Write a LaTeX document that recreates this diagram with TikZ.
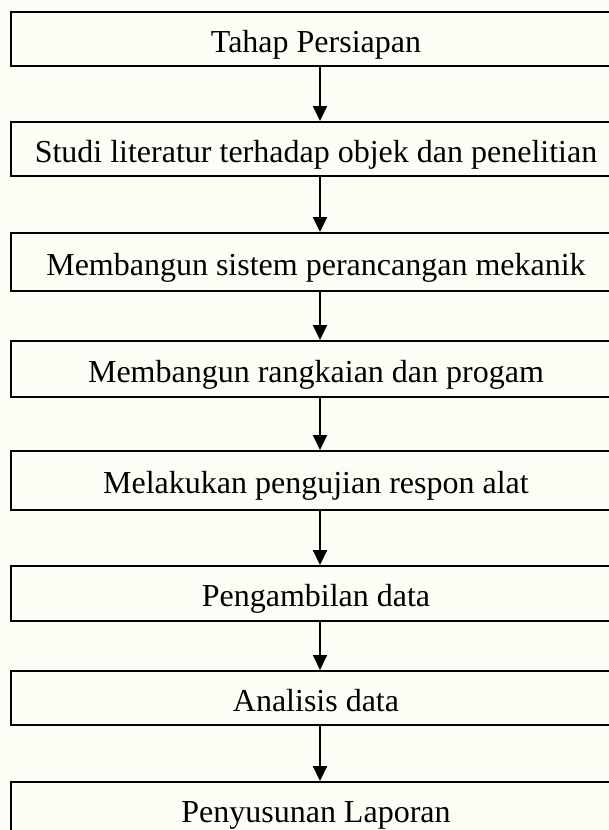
\documentclass[tikz,border=0pt]{standalone}
\usepackage{fontspec}
\setmainfont{Liberation Serif}
\usetikzlibrary{arrows.meta}
\definecolor{paper}{RGB}{253,253,246}
\tikzset{
  stepbox/.style={draw=black, line width=2pt, minimum width=618pt, inner sep=0pt,
    text height=26pt, text depth=0pt, font=\fontsize{32}{38}\selectfont},
  arr/.style={draw=black, line width=2pt, -{Triangle[width=14pt,length=15pt]}, shorten <=0pt}
}
\begin{document}
\begin{tikzpicture}[x=1pt,y=-1pt]
\fill[paper] (0,0) rectangle (609,830);
\useasboundingbox (0,0) rectangle (609,830);
\clip (0,0) rectangle (609,830);
\node[stepbox, minimum height=54pt] (b1) at (320,39) {\kern-8pt Tahap Persiapan};
\node[stepbox, minimum height=54pt] (b2) at (320,149) {\kern-8pt Studi literatur terhadap objek dan penelitian};
\node[stepbox, minimum height=58pt] (b3) at (320,262) {\kern-8pt Membangun sistem perancangan mekanik};
\node[stepbox, minimum height=56pt] (b4) at (320,369) {\kern-8pt Membangun rangkaian dan progam};
\node[stepbox, minimum height=59pt] (b5) at (320,480.5) {\kern-8pt Melakukan pengujian respon alat};
\node[stepbox, minimum height=55pt] (b6) at (320,593.5) {\kern-8pt Pengambilan data};
\node[stepbox, minimum height=54pt] (b7) at (320,698) {\kern-8pt Analisis data};
\node[stepbox, minimum height=54pt] (b8) at (320,809) {\kern-8pt Penyusunan Laporan};
\draw[arr] (b1) -- (b2);
\draw[arr] (b2) -- (b3);
\draw[arr] (b3) -- (b4);
\draw[arr] (b4) -- (b5);
\draw[arr] (b5) -- (b6);
\draw[arr] (b6) -- (b7);
\draw[arr] (b7) -- (b8);
\end{tikzpicture}
\end{document}
